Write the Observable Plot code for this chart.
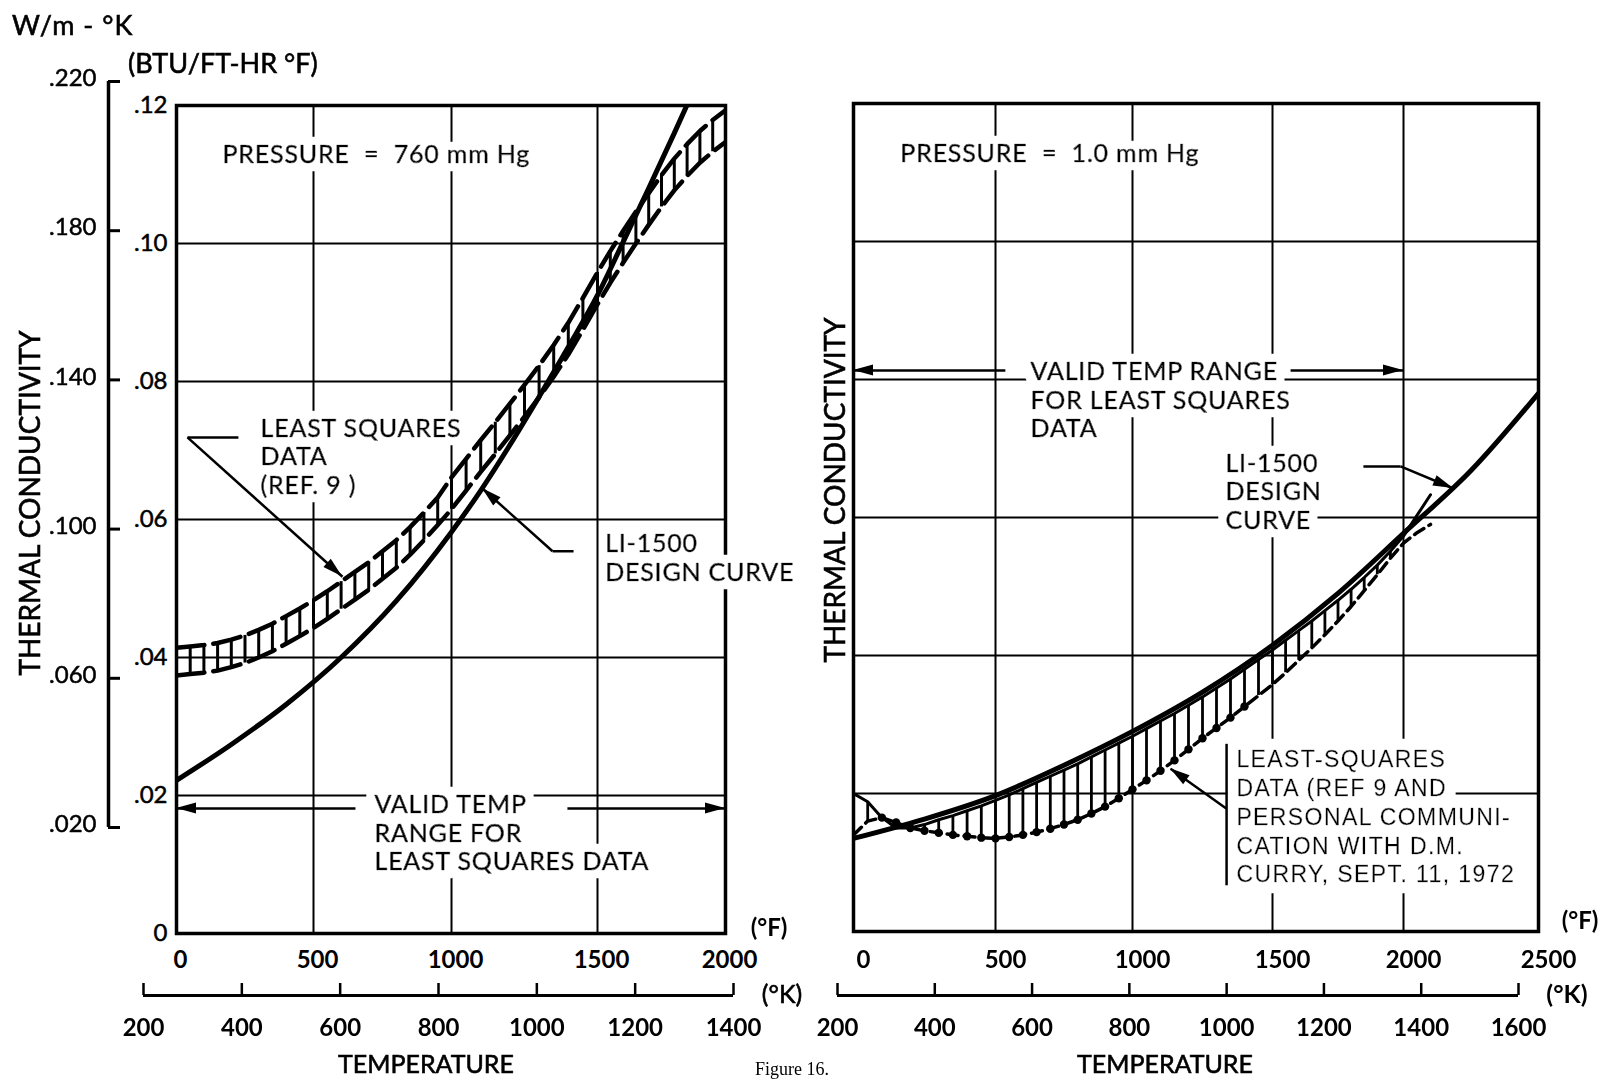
<!DOCTYPE html>
<html><head><meta charset="utf-8">
<script src="https://cdn.jsdelivr.net/npm/d3@7"></script>
<script src="https://cdn.jsdelivr.net/npm/@observablehq/plot@0.6"></script>
<style>
html,body{margin:0;padding:0;background:#fff;overflow:hidden}
#fig{position:relative;width:1619px;height:1081px;overflow:hidden;background:#fff}
#fig svg{position:absolute;left:0;top:0;background:transparent !important;overflow:visible;max-width:none}
#fig g[font-family="Liberation Sans"] text{letter-spacing:1.4px}
#fig g[stroke-width="0.71"]{filter:url(#haloA)}
#fig g[stroke-width="0.71"] text{letter-spacing:0.8px}
#fig g[stroke-width="0.31"]{filter:url(#haloB)}
.lbl{position:absolute;white-space:nowrap;font-family:Lato,sans-serif;color:#000;line-height:1}
</style></head><body>
<svg width="0" height="0" style="position:absolute;left:0;top:0">
  <defs>
    <filter id="haloA" filterUnits="userSpaceOnUse" x="0" y="0" width="1619" height="1081">
      <feMorphology in="SourceAlpha" operator="dilate" radius="8" result="d"/>
      <feFlood flood-color="white"/>
      <feComposite in2="d" operator="in" result="w"/>
      <feMerge><feMergeNode in="w"/><feMergeNode in="SourceGraphic"/></feMerge>
    </filter>
    <filter id="haloB" filterUnits="userSpaceOnUse" x="0" y="0" width="1619" height="1081">
      <feMorphology in="SourceAlpha" operator="dilate" radius="11" result="d"/>
      <feFlood flood-color="white"/>
      <feComposite in2="d" operator="in" result="w"/>
      <feMerge><feMergeNode in="w"/><feMergeNode in="SourceGraphic"/></feMerge>
    </filter>
  </defs>
</svg>
<div id="fig"></div>
<script>
// ---------------- DATA ----------------
const leftTicksF  = [0, 500, 1000, 1500, 2000];
const rightTicksF = [0, 500, 1000, 1500, 2000, 2500];
const leftTicksK  = [200, 400, 600, 800, 1000, 1200, 1400];
const rightTicksK = [200, 400, 600, 800, 1000, 1200, 1400, 1600];
const ticksBTU = [0, 0.02, 0.04, 0.06, 0.08, 0.10, 0.12];
const ticksWmK = [0.020, 0.060, 0.100, 0.140, 0.180, 0.220];

// LI-1500 design curve, 760 mm Hg (deg F, BTU/ft-hr-F)
const designLeftF = [0, 200, 400, 600, 800, 1000, 1100, 1200, 1300, 1400, 1500, 1600, 1700, 1800, 1900, 2000];
const designLeftK = [0.0222, 0.0274, 0.0332, 0.0400, 0.0482, 0.0582, 0.0642, 0.0708, 0.0778, 0.0850, 0.0925, 0.1002, 0.1080, 0.1160, 0.1242, 0.1325];

// least squares data band, 760 mm Hg
const bandLeftF = [0,50,100,150,200,250,300,350,400,450,500,550,600,650,700,750,800,850,900,950,1000,1050,1100,1150,1200,1250,1300,1350,1400,1450,1500,1550,1600,1650,1700,1750,1800,1850,1900,1950,2000];
const bandLeftLow = [0.0374,0.0376,0.0378,0.0381,0.0386,0.0392,0.0400,0.0409,0.0420,0.0431,0.0443,0.0456,0.0470,0.0484,0.0498,0.0514,0.0530,0.0549,0.0570,0.0592,0.0615,0.0642,0.0669,0.0695,0.0722,0.0749,0.0777,0.0807,0.0839,0.0875,0.0912,0.0943,0.0972,0.1000,0.1027,0.1053,0.1077,0.1098,0.1117,0.1133,0.1147];
const bandLeftHigh = [0.0414,0.0416,0.0418,0.0421,0.0426,0.0432,0.0440,0.0449,0.0460,0.0471,0.0483,0.0496,0.0510,0.0524,0.0538,0.0554,0.0570,0.0589,0.0610,0.0632,0.0661,0.0688,0.0715,0.0741,0.0768,0.0795,0.0823,0.0853,0.0885,0.0921,0.0958,0.0989,0.1018,0.1046,0.1073,0.1099,0.1123,0.1144,0.1163,0.1179,0.1193];

// LI-1500 design curve, 1.0 mm Hg
const designRightF = [0, 250, 500, 750, 1000, 1250, 1500, 1750, 2000, 2250, 2500];
const designRightK = [0.0135, 0.0163, 0.0197, 0.0241, 0.0290, 0.0347, 0.0415, 0.0490, 0.0577, 0.0668, 0.0780];

// least squares data band, 1.0 mm Hg
const bandRightF = [0,50,100,150,200,250,300,350,400,450,500,550,600,650,700,750,800,850,900,950,1000,1050,1100,1150,1200,1250,1300,1350,1400,1450,1500,1550,1600,1650,1700,1750,1800,1850,1900,1950,2000,2050,2100];
const bandRightLow = [0.0140,0.0160,0.0165,0.0158,0.0150,0.0146,0.0143,0.0140,0.0138,0.0136,0.0135,0.0137,0.0140,0.0144,0.0149,0.0155,0.0162,0.0171,0.0181,0.0193,0.0206,0.0219,0.0233,0.0248,0.0264,0.0280,0.0295,0.0310,0.0326,0.0342,0.0358,0.0375,0.0393,0.0411,0.0430,0.0450,0.0471,0.0494,0.0517,0.0541,0.0563,0.0578,0.0590];
const bandRightHigh = [0.0200,0.0188,0.0165,0.0150,0.0150,0.0155,0.0162,0.0168,0.0175,0.0182,0.0190,0.0198,0.0207,0.0216,0.0225,0.0234,0.0243,0.0253,0.0263,0.0273,0.0283,0.0294,0.0305,0.0316,0.0328,0.0340,0.0353,0.0366,0.0380,0.0394,0.0408,0.0422,0.0436,0.0450,0.0465,0.0480,0.0496,0.0513,0.0531,0.0551,0.0573,0.0603,0.0633];

// ---------------- TABLES ----------------
const designLeft  = designLeftF.map((F, i) => ({F, k: designLeftK[i]}));
const designRight = designRightF.map((F, i) => ({F, k: designRightK[i]}));
const bandLeft  = bandLeftF.map((F, i) => ({F, lo: bandLeftLow[i], hi: bandLeftHigh[i]}));
const bandRight = bandRightF.map((F, i) => ({F, lo: bandRightLow[i], hi: bandRightHigh[i]}));

// ---------------- HELPERS ----------------
const W = 1619, H = 1081;
const FONT = "Lato";
const fmtBTU = d => d === 0 ? "0" : "." + d3.format(".2f")(d).split(".")[1];
const fmtWmK = d => "." + d3.format(".3f")(d).split(".")[1];

function heads(segs, len = 20, wid = 11) {
  return (index, scales) => {
    const g = d3.create("svg:g").attr("fill", "black");
    for (const s of segs) {
      const ax = scales.x(s.F1), ay = scales.y(s.k1), bx = scales.x(s.F2), by = scales.y(s.k2);
      const a = Math.atan2(by - ay, bx - ax), ux = Math.cos(a), uy = Math.sin(a);
      const cx = bx - ux * len, cy = by - uy * len;
      g.append("path").attr("d",
        `M${bx},${by}L${cx - uy * wid / 2},${cy + ux * wid / 2}L${cx + uy * wid / 2},${cy - ux * wid / 2}Z`);
    }
    return g.node();
  };
}
// annotation text; its white halo (filter) breaks the grid lines as in the original drawing
const notesText = (list, o = {}) => Plot.text(list, {
  x: "F", y: "k", text: "t", textAnchor: "start", lineAnchor: "middle",
  fontSize: o.size || 25, fontFamily: o.family || FONT, lineHeight: o.lh || 1.14,
  fill: "black", stroke: "black", strokeWidth: o.sw || 0.71
});

const fig = document.getElementById("fig");

// ---------------- LEFT PANEL (760 mm Hg) ----------------
const leftNotes = [
  {t: "PRESSURE  =  760 mm Hg", F: 168, k: 0.1130},
  {t: "LEAST SQUARES\nDATA\n(REF. 9 )", F: 307, k: 0.0692},
  {t: "LI-1500", F: 1530, k: 0.0566},
  {t: "DESIGN CURVE", F: 1530, k: 0.0524},
  {t: "VALID TEMP\nRANGE FOR\nLEAST SQUARES DATA", F: 721, k: 0.01464}
];
const leftLeaders = [
  {F1: 40, k1: 0.0719, F2: 226, k2: 0.0719},
  {F1: 1346, k1: 0.0554, F2: 1418, k2: 0.0554}
];
const leftArrows = [
  {F1: 40, k1: 0.0719, F2: 605, k2: 0.0517},
  {F1: 1346, k1: 0.0554, F2: 1106, k2: 0.0645},
  {F1: 652, k1: 0.0181, F2: 0, k2: 0.0181},
  {F1: 1397, k1: 0.0181, F2: 2000, k2: 0.0181}
];

const left = Plot.plot({
  width: W, height: H,
  marginLeft: 176, marginRight: W - 725, marginTop: 105, marginBottom: H - 933,
  x: {type: "linear", domain: leftTicksF, range: [176, 313, 451, 597, 725], axis: null},
  y: {type: "linear", domain: [0, 0.12], axis: null},
  style: {fontFamily: FONT},
  marks: [
    Plot.ruleX(leftTicksF.slice(1, -1), {stroke: "black", strokeWidth: 2}),
    Plot.ruleY(ticksBTU.slice(1, -1), {stroke: "black", strokeWidth: 2}),
    Plot.frame({stroke: "black", strokeWidth: 3.5}),
    notesText(leftNotes),
    Plot.link(leftLeaders, {x1: "F1", y1: "k1", x2: "F2", y2: "k2", stroke: "black", strokeWidth: 2.5}),
    Plot.link(leftArrows, {x1: "F1", y1: "k1", x2: "F2", y2: "k2", stroke: "black", strokeWidth: 2.5}),
    heads(leftArrows),
    Plot.line(bandLeft, {x: "F", y: "hi", stroke: "black", strokeWidth: 4.5, strokeDasharray: "28,9", clip: true}),
    Plot.line(bandLeft, {x: "F", y: "lo", stroke: "black", strokeWidth: 4.5, strokeDasharray: "28,9", clip: true}),
    Plot.ruleX(bandLeft, {x: "F", y1: "lo", y2: "hi", stroke: "black", strokeWidth: 3, clip: true}),
    Plot.line(designLeft, {x: "F", y: "k", stroke: "black", strokeWidth: 5, curve: "monotone-x", clip: true}),
    Plot.text(ticksBTU, {y: d => d, text: fmtBTU, frameAnchor: "left", dx: -9, textAnchor: "end", fontSize: 24, fill: "black", stroke: "black", strokeWidth: 0.5}),
    Plot.text(leftTicksF, {x: d => d, text: d => String(d), frameAnchor: "bottom", dy: 34, dx: 4, fontSize: 24, fontWeight: 700, fill: "black"})
  ]
});
fig.appendChild(left);

// ---------------- RIGHT PANEL (1.0 mm Hg) ----------------
const rightNotes = [
  {t: "PRESSURE  =  1.0 mm Hg", F: 165, k: 0.1128},
  {t: "VALID TEMP RANGE\nFOR LEAST SQUARES\nDATA", F: 628, k: 0.0771},
  {t: "LI-1500\nDESIGN\nCURVE", F: 1332, k: 0.0638}
];
const rightNotes2 = [
  {t: "LEAST-SQUARES\nDATA (REF 9 AND\nPERSONAL COMMUNI-\nCATION WITH D.M.\nCURRY, SEPT. 11, 1972", F: 1371, k: 0.0168}
];
const rightLeaders = [
  {F1: 1847, k1: 0.0674, F2: 1989, k2: 0.0674},
  {F1: 1336, k1: 0.0272, F2: 1336, k2: 0.0067}
];
const rightArrows = [
  {F1: 536, k1: 0.0813, F2: 0, k2: 0.0813},
  {F1: 1569, k1: 0.0813, F2: 2000, k2: 0.0813},
  {F1: 1989, k1: 0.0674, F2: 2185, k2: 0.0642},
  {F1: 1336, k1: 0.0178, F2: 1136, k2: 0.0236}
];
const right = Plot.plot({
  width: W, height: H,
  marginLeft: 853, marginRight: W - 1538, marginTop: 103, marginBottom: H - 931,
  x: {type: "linear", domain: rightTicksF, range: [853, 995, 1132, 1272, 1403, 1538], axis: null},
  y: {type: "linear", domain: [0, 0.12], axis: null},
  style: {fontFamily: FONT},
  marks: [
    Plot.ruleX(rightTicksF.slice(1, -1), {stroke: "black", strokeWidth: 2}),
    Plot.ruleY(ticksBTU.slice(1, -1), {stroke: "black", strokeWidth: 2}),
    Plot.frame({stroke: "black", strokeWidth: 3.5}),
    notesText(rightNotes),
    notesText(rightNotes2, {family: "Liberation Sans", size: 23, lh: 1.25, sw: 0.31}),
    Plot.link(rightLeaders, {x1: "F1", y1: "k1", x2: "F2", y2: "k2", stroke: "black", strokeWidth: 2.5}),
    Plot.link(rightArrows, {x1: "F1", y1: "k1", x2: "F2", y2: "k2", stroke: "black", strokeWidth: 2.5}),
    heads(rightArrows),
    Plot.line(bandRight, {x: "F", y: "lo", stroke: "black", strokeWidth: 3.5, strokeDasharray: "11,6", clip: true}),
    Plot.line(bandRight, {x: "F", y: "hi", stroke: "black", strokeWidth: 3, clip: true}),
    Plot.ruleX(bandRight.filter(d => d.F <= 1950), {x: "F", y1: "lo", y2: "hi", stroke: "black", strokeWidth: 2.8, clip: true}),
    Plot.dot(bandRight.filter(d => d.F >= 100 && d.F <= 1400), {x: "F", y: "lo", r: 4.2, fill: "black"}),
    Plot.line(designRight, {x: "F", y: "k", stroke: "black", strokeWidth: 5, curve: "monotone-x", clip: true}),
    Plot.text(rightTicksF, {x: d => d, text: d => String(d), frameAnchor: "bottom", dy: 36, dx: 10, fontSize: 24, fontWeight: 700, fill: "black"})
  ]
});
fig.appendChild(right);

// ---------------- OUTER W/m-K AXIS ----------------
const outer = Plot.plot({
  width: W, height: H,
  marginLeft: 108, marginRight: W - 120, marginTop: 81, marginBottom: H - 827,
  x: {type: "linear", domain: [0, 1], axis: null},
  y: {type: "linear", domain: [0.020, 0.220], axis: null},
  style: {fontFamily: FONT},
  marks: [
    Plot.ruleX([0], {stroke: "black", strokeWidth: 3.5}),
    Plot.ruleY(ticksWmK, {x1: 0, x2: 1, stroke: "black", strokeWidth: 3}),
    Plot.text(ticksWmK, {y: d => d, text: fmtWmK, frameAnchor: "left", dx: -12, dy: -3, textAnchor: "end", fontSize: 24, fill: "black", stroke: "black", strokeWidth: 0.5})
  ]
});
fig.appendChild(outer);

// ---------------- KELVIN AXES ----------------
function kelvinAxis(ticks, x0, x1) {
  return Plot.plot({
    width: W, height: H,
    marginLeft: x0, marginRight: W - x1, marginTop: 983, marginBottom: H - 995,
    x: {type: "linear", domain: d3.extent(ticks), axis: null},
    y: {type: "linear", domain: [0, 1], axis: null},
    style: {fontFamily: FONT},
    marks: [
      Plot.ruleY([0], {stroke: "black", strokeWidth: 3}),
      Plot.ruleX(ticks, {stroke: "black", strokeWidth: 2.5}),
      Plot.text(ticks, {x: d => d, text: d => String(d), frameAnchor: "bottom", dy: 40, fontSize: 24, fontWeight: 700, fill: "black"})
    ]
  });
}
fig.appendChild(kelvinAxis(leftTicksK, 143, 733));
fig.appendChild(kelvinAxis(rightTicksK, 837, 1518));

// ---------------- TITLES ----------------
function label(txt, x, y, o = {}) {
  const d = document.createElement("div");
  d.className = "lbl";
  d.textContent = txt;
  d.style.left = x + "px";
  d.style.top = y + "px";
  d.style.fontSize = (o.size || 24) + "px";
  d.style.fontWeight = o.weight || 400;
  if (o.ls) d.style.letterSpacing = o.ls + "px";
  if (o.family) d.style.fontFamily = o.family;
  if (!o.weight && !o.family) d.style.webkitTextStroke = "0.6px black";
  const tx = o.anchor === "middle" ? "-50%" : o.anchor === "end" ? "-100%" : "0";
  d.style.transform = `translate(${tx},-50%)` + (o.rotate ? ` rotate(${o.rotate}deg)` : "");
  fig.appendChild(d);
}
label("W/m - °K", 12, 24, {size: 27, ls: 1});
label("(BTU/FT-HR °F)", 128, 62, {size: 27});
label("THERMAL CONDUCTIVITY", 29, 503, {size: 28, anchor: "middle", rotate: -90});
label("THERMAL CONDUCTIVITY", 834, 490, {size: 28, anchor: "middle", rotate: -90});
label("(°F)", 769, 927, {size: 24, weight: 700, anchor: "middle"});
label("(°F)", 1580, 920, {size: 24, weight: 700, anchor: "middle"});
label("(°K)", 782, 993, {size: 25, anchor: "middle"});
label("(°K)", 1567, 993, {size: 25, weight: 700, anchor: "middle"});
label("TEMPERATURE", 426, 1063, {size: 25, anchor: "middle"});
label("TEMPERATURE", 1165, 1063, {size: 25, anchor: "middle"});
label("Figure 16.", 792, 1069, {size: 18, anchor: "middle", family: "Liberation Serif"});
</script></body></html>
